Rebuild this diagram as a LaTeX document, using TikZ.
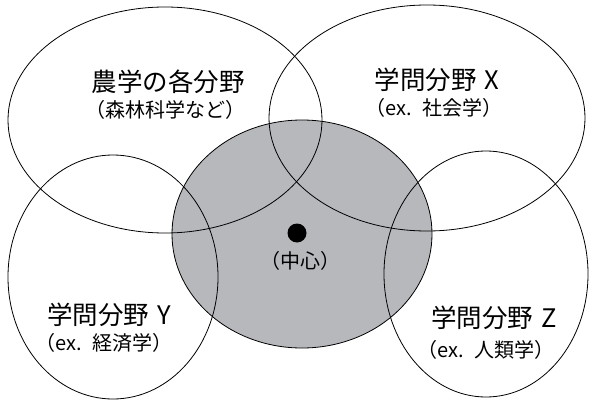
\documentclass[tikz,border=0pt]{standalone}
\usepackage{fontspec}
\setmainfont{Noto Sans CJK JP}
\definecolor{centergray}{RGB}{183,184,188}
\newcommand{\gapwide}{\hspace{0.55em}}
\newcommand{\gaptitle}{\hspace{0.3em}}
\begin{document}
\begin{tikzpicture}[x=1pt,y=-1pt,
  every node/.style={inner sep=0pt},
  ring/.style={draw=black,line width=0.8pt},
  title/.style={font=\fontsize{25.5}{28}\selectfont},
  sub/.style={font=\fontsize{20}{22}\selectfont}]
\useasboundingbox (0,0) rectangle (591,401);
% central field
\fill[centergray] (302,234) ellipse [x radius=130, y radius=114];
\draw[ring] (302,234) ellipse [x radius=130, y radius=114];
% surrounding fields
\draw[ring] (165,120) ellipse [x radius=157, y radius=113];
\draw[ring] (427,118) ellipse [x radius=158, y radius=113];
\draw[ring] (113,277) ellipse [x radius=105, y radius=122];
\draw[ring] (486,274) ellipse [x radius=102, y radius=123];
% centre dot
\fill (297,233) circle [radius=9.5];
\node[sub] (centre) at (300,261) {（中心）};
% labels
\node[title] (agr) at (168,82) {農学の各分野};
\node[sub] (agrs) at (165,110) {（森林科学など）};
\node[title] (x) at (437,80) {学問分野\gaptitle X};
\node[sub] (xs) at (434,108) {（ex.\gapwide 社会学）};
\node[title] (y) at (109,315) {学問分野\gaptitle Y};
\node[sub] (ys) at (104,343) {（ex.\gapwide 経済学）};
\node[title] (z) at (494,318) {学問分野\gaptitle Z};
\node[sub] (zs) at (486,350) {（ex.\gapwide 人類学）};
\end{tikzpicture}
\end{document}
